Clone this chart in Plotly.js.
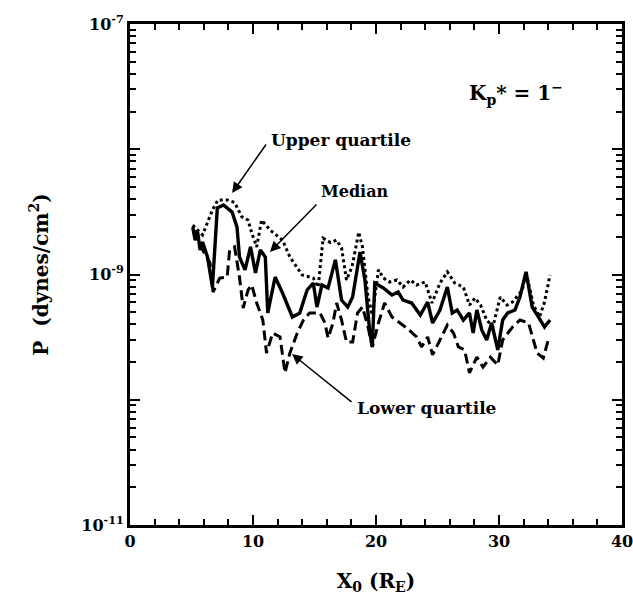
<!DOCTYPE html>
<html>
<head>
<meta charset="utf-8">
<script src="https://cdn.plot.ly/plotly-3.0.1.min.js"></script>
<style>html,body{margin:0;padding:0;background:#fff;}#chart{width:633px;height:599px;}</style>
</head>
<body>
<div id="chart"></div>
<script>
// Upper quartile (dotted)
var upperX = [5.1,5.9,6.7,7.15,7.9,8.5,9.1,9.6,9.9,10.3,10.7,11.4,12.4,13.0,14.0,14.6,14.9,15.3,15.7,16.3,16.8,17.2,17.6,18.05,18.6,18.9,19.35,19.7,20.2,20.6,21.1,21.7,22.2,22.8,23.3,24.0,24.55,25.2,25.8,26.4,27.1,27.6,28.05,28.5,29.0,29.5,30.1,30.65,31.1,31.9,32.2,32.8,33.3,33.7,34.15];
var upperP = [2.48e-9,2.07e-9,3.27e-9,3.94e-9,3.94e-9,3.76e-9,2.88e-9,2.72e-9,2.14e-9,1.66e-9,2.72e-9,2.26e-9,1.88e-9,1.38e-9,9.9e-10,9.55e-10,9.37e-10,7.94e-10,1.95e-9,1.80e-9,1.88e-9,1.63e-9,9.04e-10,1.15e-9,2.18e-9,1.66e-9,6.61e-10,4.75e-10,1.09e-9,9.37e-10,8.71e-10,9.04e-10,7.94e-10,9.04e-10,8.24e-10,8.71e-10,5.92e-10,8.55e-10,1.05e-9,8.55e-10,7.94e-10,5.70e-10,6.49e-10,5.70e-10,4.33e-10,3.81e-10,6.61e-10,5.70e-10,6.03e-10,7.52e-10,1.05e-9,5.70e-10,4.58e-10,6.03e-10,9.9e-10];
// Median (solid)
var medianX = [5.1,5.3,5.5,5.7,5.9,6.3,6.7,7.1,7.6,8.3,8.7,8.9,9.35,9.8,10.2,10.6,11.0,11.2,11.8,12.4,13.2,13.8,14.4,14.9,15.2,15.6,16.1,16.7,17.2,17.7,18.1,18.7,19.1,19.5,19.7,19.9,20.6,21.3,21.8,22.2,22.9,23.6,24.2,24.6,25.2,25.8,26.2,26.6,27.1,27.6,27.9,28.2,28.6,29.0,29.4,29.9,30.3,30.7,31.3,31.7,32.2,32.7,33.2,33.7,34.15];
var medianP = [2.39e-9,1.88e-9,2.18e-9,1.57e-9,1.82e-9,1.38e-9,7.94e-10,3.40e-9,3.59e-9,3.15e-9,2.39e-9,1.38e-9,1.09e-9,1.66e-9,1.03e-9,1.57e-9,1.38e-9,4.93e-10,9.55e-10,7.11e-10,4.58e-10,4.93e-10,7.52e-10,8.55e-10,5.50e-10,8.24e-10,7.80e-10,1.31e-9,6.25e-10,5.50e-10,6.61e-10,1.51e-9,9.04e-10,3.41e-10,2.64e-10,8.55e-10,7.80e-10,6.86e-10,7.25e-10,6.25e-10,5.92e-10,4.75e-10,6.03e-10,4.10e-10,5.21e-10,7.94e-10,4.93e-10,5.21e-10,4.33e-10,4.93e-10,3.41e-10,5.21e-10,3.61e-10,3.00e-10,4.10e-10,2.50e-10,4.33e-10,4.93e-10,5.21e-10,6.61e-10,1.05e-9,5.50e-10,4.58e-10,3.81e-10,4.33e-10];
// Lower quartile (dashed)
var lowerX = [5.3,5.9,6.5,6.75,7.3,7.9,8.1,8.5,8.9,9.2,9.6,9.9,10.3,10.8,11.1,11.6,12.2,12.6,13.0,13.6,14.1,14.6,15.45,15.85,16.1,16.5,16.8,17.2,17.6,18.1,18.5,18.9,19.35,19.7,20.2,20.7,21.3,21.95,22.5,23.3,23.7,24.2,24.6,25.2,25.8,26.3,26.7,27.2,27.6,28.2,28.7,29.3,29.9,30.3,31.1,31.7,32.4,33.1,33.6,34.0];
var lowerP = [2.26e-9,1.57e-9,1.24e-9,7.25e-10,9.37e-10,9.55e-10,1.57e-9,1.66e-9,9.55e-10,5.40e-10,7.52e-10,8.24e-10,5.92e-10,4.33e-10,2.36e-10,3.41e-10,3.17e-10,1.64e-10,2.36e-10,3.41e-10,4.33e-10,4.93e-10,4.93e-10,4.10e-10,3.11e-10,4.10e-10,5.92e-10,4.33e-10,2.89e-10,2.89e-10,4.93e-10,5.50e-10,3.81e-10,2.64e-10,4.10e-10,5.92e-10,4.58e-10,4.10e-10,3.74e-10,3.17e-10,2.64e-10,3.17e-10,2.28e-10,3.00e-10,3.95e-10,3.41e-10,2.64e-10,2.50e-10,1.64e-10,2.19e-10,1.82e-10,2.19e-10,1.89e-10,3.00e-10,3.81e-10,4.33e-10,4.10e-10,2.36e-10,2.15e-10,3.00e-10];

var yMajor = [1e-11,1e-10,1e-9,1e-8,1e-7];
var yMajorText = ['10<sup>-11</sup>','','10<sup>-9</sup>','','10<sup>-7</sup>'];
var yMinor = [2e-11,3e-11,4e-11,5e-11,6e-11,7e-11,8e-11,9e-11,2e-10,3e-10,4e-10,5e-10,6e-10,7e-10,8e-10,9e-10,2e-9,3e-9,4e-9,5e-9,6e-9,7e-9,8e-9,9e-9,2e-8,3e-8,4e-8,5e-8,6e-8,7e-8,8e-8,9e-8];

var FONT = 'DejaVu Serif, Liberation Serif, serif';

var traces = [
  {x: upperX, y: upperP, mode: 'lines', line: {color: '#000', width: 3, dash: 'dot'}, name: 'Upper quartile'},
  {x: medianX, y: medianP, mode: 'lines', line: {color: '#000', width: 3.4}, name: 'Median'},
  {x: lowerX, y: lowerP, mode: 'lines', line: {color: '#000', width: 3, dash: '10px,5px'}, name: 'Lower quartile'}
];

var layout = {
  width: 633, height: 599,
  margin: {l: 130, r: 11, t: 24, b: 74},
  paper_bgcolor: '#fff', plot_bgcolor: '#fff',
  showlegend: false,
  font: {family: FONT, color: '#000', size: 15, weight: 'bold'},
  xaxis: {
    range: [0, 40], tickmode: 'array', tickvals: [0,10,20,30,40],
    ticks: 'inside', ticklen: 10, tickwidth: 2, tickcolor: '#000',
    showline: true, linewidth: 3, linecolor: '#000', mirror: 'ticks',
    showgrid: false, zeroline: false, ticklabeloverflow: 'allow',
    tickfont: {family: FONT, size: 16, weight: 'bold'},
    minor: {tickvals: [2,4,6,8,12,14,16,18,22,24,26,28,32,34,36,38], ticks: 'inside', ticklen: 6, tickwidth: 2, tickcolor: '#000', showgrid: false},
    title: {text: 'X<sub>0</sub> (R<sub>E</sub>)', font: {family: FONT, size: 20, weight: 'bold'}, standoff: 24}
  },
  yaxis: {
    type: 'log', range: [-11, -7], tickmode: 'array', tickvals: yMajor, ticktext: yMajorText,
    ticks: 'inside', ticklen: 10, tickwidth: 2, tickcolor: '#000',
    showline: true, linewidth: 3, linecolor: '#000', mirror: 'ticks',
    showgrid: false, zeroline: false, ticklabeloverflow: 'allow',
    tickfont: {family: FONT, size: 16, weight: 'bold'},
    minor: {tickvals: yMinor, ticks: 'inside', ticklen: 6, tickwidth: 2, tickcolor: '#000', showgrid: false},
    title: {text: 'P  (dynes/cm<sup>2</sup>)', font: {family: FONT, size: 20, weight: 'bold'}, standoff: 28}
  },
  annotations: [
    {xref: 'paper', yref: 'paper', x: 0.685, y: 0.894, xanchor: 'left', text: 'K<sub>p</sub>* = 1<sup>−</sup>', showarrow: false, font: {family: FONT, size: 20, weight: 'bold'}},
    {x: 11.3, y: -7.926, xanchor: 'left', text: 'Upper quartile', showarrow: false, font: {family: FONT, size: 17, weight: 'bold'}},
    {x: 15.4, y: -8.341, xanchor: 'left', text: 'Median', showarrow: false, font: {family: FONT, size: 16, weight: 'bold'}},
    {x: 18.3, y: -10.066, xanchor: 'left', text: 'Lower quartile', showarrow: false, font: {family: FONT, size: 17, weight: 'bold'}},
    {x: 8.3, y: -8.349, text: '', showarrow: true, ax: 35, ay: -50, arrowhead: 2, arrowsize: 1.4, arrowwidth: 1.5, arrowcolor: '#000'},
    {x: 11.38, y: -8.82, text: '', showarrow: true, ax: 48, ay: -49, arrowhead: 2, arrowsize: 1.4, arrowwidth: 1.5, arrowcolor: '#000'},
    {x: 13.17, y: -9.635, text: '', showarrow: true, ax: 61, ay: 49, arrowhead: 2, arrowsize: 1.4, arrowwidth: 1.5, arrowcolor: '#000'}
  ]
};

Plotly.newPlot('chart', traces, layout, {displayModeBar: false, staticPlot: true});
</script>
</body>
</html>
